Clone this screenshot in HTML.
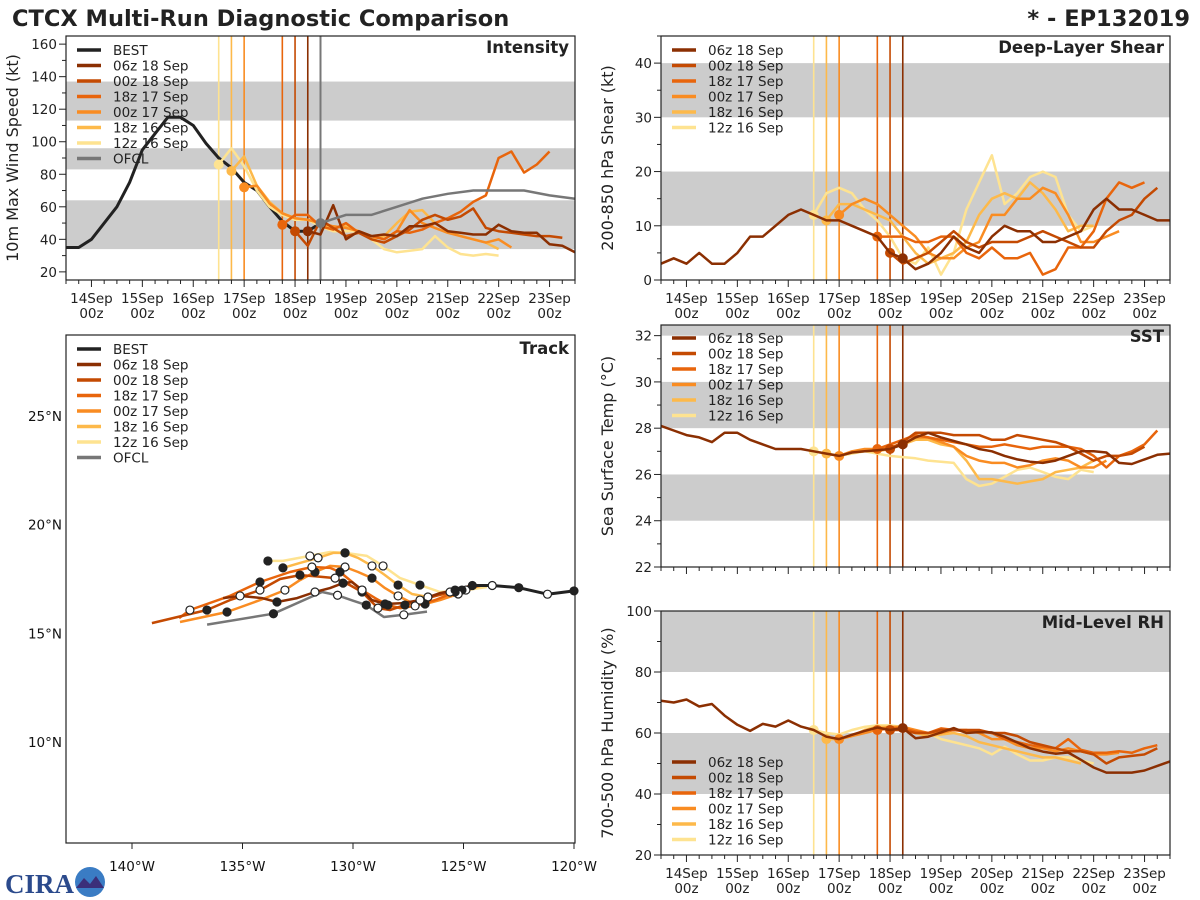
<!DOCTYPE html>
<html><head><meta charset="utf-8"><title>CTCX Multi-Run Diagnostic Comparison</title>
<style>
html,body{margin:0;padding:0;background:#fff;}
svg{display:block;font-family:"DejaVu Sans","Liberation Sans",sans-serif;}
</style></head>
<body>
<svg id="fig" xmlns="http://www.w3.org/2000/svg" width="1200" height="900" viewBox="0 0 1200 900">
<text x="12" y="26" font-size="22.5" font-weight="bold" fill="#222">CTCX Multi-Run Diagnostic Comparison</text>
<text x="1190" y="26" font-size="22.5" font-weight="bold" fill="#222" text-anchor="end">* - EP132019</text>
<g>
<text x="5" y="893" font-size="27" font-weight="bold" fill="#2b4a8c" font-family="Liberation Serif, serif">CIRA</text>
<circle cx="90" cy="882" r="15" fill="#3a7cc4"/>
<path d="M76 888 L84 878 L90 884 L96 876 L104 888 Z" fill="#3b2f7a"/>
</g>
</svg>
<script>
// ---------------- DATA ----------------
const runNames = ["06z 18 Sep","00z 18 Sep","18z 17 Sep","00z 17 Sep","18z 16 Sep","12z 16 Sep"];
const runInit = [4.25, 4.0, 3.75, 3.0, 2.75, 2.5]; // days after 14 Sep 00z
const dayLabels = ["14Sep","15Sep","16Sep","17Sep","18Sep","19Sep","20Sep","21Sep","22Sep","23Sep"];
// Intensity (kt)
const intBestStart = -0.5;
const intBest = [35,35,40,50,60,75,95,105,115,115,110,99,90,84,75,70,60,51,45,45,50];
const ofclTimes = [4.5,5.0,5.5,6.0,6.5,7.0,7.5,8.0,8.5,9.0,9.5];
const ofclVals = [50,55,55,60,65,68,70,70,70,67,65];
const int06z18 = [45,43,61,40,45,42,43,42,48,48,50,45,44,43,43,49,45,44,44,37,36,32];
const int00z18 = [45,36,52,47,42,44,40,38,42,46,52,55,52,54,59,47,45,44,43,42,42,41];
const int18z17 = [49,55,55,48,46,50,44,42,40,45,44,46,50,53,57,63,67,90,94,81,86,94];
const int00z17 = [72,73,62,56,53,52,50,48,47,45,42,40,45,58,50,47,44,42,40,38,40,35];
const int18z16 = [82,91,73,63,56,53,52,50,47,48,45,40,42,50,57,58,50,45,42,40,38,34];
const int12z16 = [86,96,85,70,60,55,52,52,48,45,45,45,40,34,32,33,34,42,35,31,30,31,30];
// Deep-layer shear (kt)
const shr06z18 = [3,4,3,5,3,3,5,8,8,10,12,13,12,11,11,10,9,8,5,4,2,3,5,8,6,5,8,10,9,9,7,7,8,9,13,15,13,13,12,11,11];
const shr06z18Start = -0.5;
const shr00z18 = [5,3,4,5,7,9,7,6,7,7,7,8,9,8,7,6,6,9,11,12,15,17];
const shr18z17 = [8,8,8,7,7,8,8,5,4,6,4,4,5,1,2,6,6,9,15,18,17,18];
const shr00z17 = [12,14,15,14,12,10,8,5,4,4,6,7,12,12,15,15,17,16,12,7,7,8,9];
const shr18z16 = [11,14,14,13,12,11,8,5,3,4,5,7,12,15,16,15,18,16,13,9,10,10];
const shr12z16 = [12,16,17,16,13,11,8,4,3,6,1,5,13,18,23,14,16,19,20,19,12,9,10];
// SST (C)
const sst06z18 = [28.1,27.9,27.7,27.6,27.4,27.8,27.8,27.5,27.3,27.1,27.1,27.1,27.0,26.9,26.8,26.95,27.0,27.05,27.1,27.3,27.6,27.8,27.6,27.45,27.3,27.1,27.0,26.8,26.65,26.55,26.5,26.6,26.8,27.0,27.0,26.95,26.5,26.45,26.65,26.85,26.9];
const sst06z18Start = -0.5;
const sst00z18 = [27.1,27.4,27.8,27.8,27.8,27.7,27.7,27.7,27.5,27.5,27.7,27.6,27.5,27.4,27.2,26.9,26.6,26.8,26.8,26.9,27.2];
const sst18z17 = [27.1,27.3,27.5,27.7,27.6,27.5,27.4,27.3,27.2,27.2,27.3,27.2,27.1,27.2,27.2,27.2,27.1,26.8,26.3,26.8,27.0,27.3,27.9];
const sst00z17 = [26.8,27.0,27.1,27.1,27.2,27.3,27.6,27.6,27.4,27.2,26.8,26.6,26.5,26.5,26.3,26.4,26.6,26.7,26.6,26.3,26.3,26.6];
const sst18z16 = [26.9,26.8,26.95,27.0,27.0,27.1,27.3,27.5,27.5,27.3,27.2,26.6,25.8,25.8,25.7,25.6,25.7,25.8,26.1,26.2,26.3,26.6];
const sst12z16 = [27.0,26.9,26.8,26.9,27.0,26.9,26.8,26.75,26.7,26.6,26.55,26.5,25.8,25.5,25.6,25.9,26.2,26.3,26.1,25.9,25.8,26.2,26.1];
// Mid-level RH (%)
const rh06z18 = [70.6,70,71,68.7,69.5,65.7,62.7,60.7,63,62.1,64.1,62.1,61,58.8,58,59.4,60.7,61.8,61,61.6,58.3,58.8,60.2,61.6,60,60.3,60.2,58.8,56.9,55,53.9,53.2,53.6,51.2,48.7,47,47,47,47.7,49.2,50.7];
const rh06z18Start = -0.5;
const rh00z18 = [61,61,60,60,61,61,61,61,60,60,59,57,56,55,54,54,53,50,52,52.5,53,55];
const rh18z17 = [61,61.5,61.5,60.5,60,61.5,61,60.5,60.5,60,58,57,56,55.5,55,58,54.5,53.5,53.5,54,53.5,55,56];
const rh00z17 = [58,59,60,61,62,62,61,60,60,61,61,60,58,58,56,55,55,54,55,54,53,53,53.5];
const rh18z16 = [58,58,59,61,62,62,61,60,59,59.5,60,59,57,56,55,54,53,52,52,51,50];
const rh12z16 = [61,60,59.5,61,62,62.5,62.5,62,60.5,60,58,57,56,55,53,55.5,53,51,51,52,52,51,50];
// Track (deg W, deg N)
const bestLon = [120.0,121.2,122.5,123.7,124.6];
const bestLat = [16.95,16.8,17.1,17.2,17.2];
const ofclLon = [126.65,127.7,128.6,129.4,130.0,130.7,131.4,133.6,136.6];
const ofclLat = [16.0,15.85,15.75,16.3,16.5,16.75,16.9,15.9,15.4];
const trk06z18Lon = [124.57,125.38,126.06,126.97,127.74,128.55,129.14,129.59,130.05,130.45,131.04,131.72,132.53,133.44,134.12,135.11,135.88];
const trk06z18Lat = [17.22,16.99,16.85,16.53,16.39,16.35,16.53,16.99,17.36,17.31,17.08,16.90,16.62,16.44,16.62,16.72,16.62];
const trk00z18Lon = [124.57,125.61,126.61,127.65,128.33,128.87,129.23,129.59,130.14,130.81,131.72,132.40,133.30,134.21,135.57,136.61,139.10];
const trk00z18Lat = [17.22,16.90,16.62,16.30,16.07,16.16,16.53,16.90,17.22,17.54,17.63,17.68,17.50,16.99,16.53,16.07,15.47];
const trk18z17Lon = [124.48,125.38,126.29,127.19,127.87,128.42,129.00,129.59,130.14,130.59,131.04,131.86,132.85,134.21,135.57,137.38,137.87];
const trk18z17Lat = [17.22,16.90,16.53,16.26,16.16,16.30,16.62,16.99,17.45,17.82,18.01,18.05,17.82,17.36,16.72,16.07,15.70];
const trk00z17Lon = [124.34,125.24,126.06,126.74,127.42,127.96,128.55,129.14,129.77,130.36,131.04,131.72,132.40,133.08,134.21,135.70,137.83];
const trk00z17Lat = [17.17,16.81,16.53,16.35,16.44,16.72,17.08,17.54,17.82,18.05,18.10,17.82,17.45,16.99,16.53,15.98,15.52];
const trk18z16Lon = [124.25,125.07,125.84,126.61,127.33,127.96,128.55,129.14,129.77,130.36,130.90,131.58,132.40,133.17];
const trk18z16Lat = [17.17,16.99,16.81,16.67,16.81,17.22,17.68,18.10,18.47,18.70,18.70,18.47,18.24,18.01];
const trk12z16Lon = [123.94,124.89,126.06,126.97,127.87,128.64,129.37,130.36,131.04,131.95,133.17,133.85];
const trk12z16Lat = [17.13,16.99,16.90,17.22,17.54,18.10,18.56,18.70,18.74,18.56,18.33,18.33];
const lonTicks = [140,135,130,125,120];
const latTicks = [25,20,15,10];

// ---------------- STYLE ----------------
const runColors = ["#8b2f02","#c44a02","#e8650c","#f98c22","#fdb94a","#fee391"];
const runKeys = ["06z18","00z18","18z17","00z17","18z16","12z16"];
const NS = "http://www.w3.org/2000/svg";
const svg = document.getElementById("fig");
function mk(tag, attrs, parent){ const e=document.createElementNS(NS,tag); for(const k in attrs) e.setAttribute(k,attrs[k]); (parent||svg).appendChild(e); return e; }

function timePanel(name, box, ymin, ymax){
  const g = mk("g",{});
  
  
  const P = {g, box, ymin, ymax,
    x: t => box.x0 + (t+0.5)/10*(box.x1-box.x0),
    y: v => box.y1 - (v-ymin)/(ymax-ymin)*(box.y1-box.y0)};
  const bg = mk("rect",{x:box.x0,y:box.y0,width:box.x1-box.x0,height:box.y1-box.y0,fill:"#fff"},g);
  
  
  return P;
}
function bands(P, list, name){
  list.forEach((b,i)=>{
    const lo=Math.max(b[0],P.ymin), hi=Math.min(b[1],P.ymax);
    const r = mk("rect",{x:P.box.x0,y:P.y(hi),width:P.box.x1-P.box.x0,height:P.y(lo)-P.y(hi),fill:"#cccccc"},P.g);
    
    
  });
}
function vlines(P, name, withOfcl){
  runInit.forEach((t,i)=>{
    const l = mk("line",{x1:P.x(t),x2:P.x(t),y1:P.box.y0,y2:P.box.y1,stroke:runColors[i],"stroke-width":1.6},P.g);
    
    
  });
  if(withOfcl){
    const l = mk("line",{x1:P.x(4.5),x2:P.x(4.5),y1:P.box.y0,y2:P.box.y1,stroke:"#777","stroke-width":2},P.g);
    
    
  }
}
function series(P, start, vals, color, w, name, dot){
  const pts = vals.map((v,i)=>P.x(start+i*0.25).toFixed(1)+","+P.y(v).toFixed(1)).join(" ");
  const pl = mk("polyline",{points:pts,fill:"none",stroke:color,"stroke-width":w,"stroke-linejoin":"round"},P.g);
  
  
  if(dot){
    const c = mk("circle",{cx:P.x(start),cy:P.y(vals[0]),r:5,fill:color},P.g);
    
    
  }
}
function axes(P, name, yticks, ylabel, title, showX){
  const b=P.box, g=P.g;
  for(let t=-0.5;t<=9.5001;t+=0.25){
    const major = Math.abs(t-Math.round(t))<1e-6;
    const tk = mk("line",{x1:P.x(t),x2:P.x(t),y1:b.y1,y2:b.y1+(major?7:4),stroke:"#222","stroke-width":1},g);
    
    
  }
  if(showX){
    dayLabels.forEach((d,i)=>{
      const tx = mk("text",{x:P.x(i),y:b.y1+23,"font-size":13.5,"text-anchor":"middle",fill:"#222"},g);
      tx.textContent = d;
      
      
      const tz = mk("text",{x:P.x(i),y:b.y1+38,"font-size":13.5,"text-anchor":"middle",fill:"#222"},g);
      tz.textContent = "00z";
      
      
    });
  }
  const step = yticks[1]-yticks[0];
  for(let v=yticks[0]-step; v<=P.ymax+1e-6; v+=step/2){
    if(v<P.ymin-1e-6) continue;
    const major = yticks.some(t=>Math.abs(t-v)<1e-6);
    const tk = mk("line",{x1:b.x0-(major?7:4),x2:b.x0,y1:P.y(v),y2:P.y(v),stroke:"#222","stroke-width":1},g);
    
    
  }
  yticks.forEach(v=>{
    const tx = mk("text",{x:b.x0-9,y:P.y(v)+5,"font-size":13.5,"text-anchor":"end",fill:"#222"},g);
    tx.textContent = v;
    
    
  });
  const cy=(b.y0+b.y1)/2, cx=b.x0-48;
  const yl = mk("text",{x:cx,y:cy,"font-size":16,"text-anchor":"middle",fill:"#222",transform:`rotate(-90 ${cx} ${cy})`},g);
  yl.textContent = ylabel;
  
  
  const tt = mk("text",{x:b.x1-6,y:b.y0+17,"font-size":16.5,"font-weight":"bold","text-anchor":"end",fill:"#222"},g);
  tt.textContent = title;
  
  
  const fr = mk("rect",{x:b.x0,y:b.y0,width:b.x1-b.x0,height:b.y1-b.y0,fill:"none",stroke:"#222","stroke-width":1.2},g);
  
  
}
function legend(g, x, y0, entries, name){
  entries.forEach((e,i)=>{
    const y = y0 + i*15.5;
    const l = mk("line",{x1:x,x2:x+24,y1:y,y2:y,stroke:e[1],"stroke-width":3.5},g);
    
    
    const t = mk("text",{x:x+36,y:y+5,"font-size":13.5,fill:"#222"},g);
    t.textContent = e[0];
    
    
  });
}
const runEntries = runNames.map((n,i)=>[n,runColors[i]]);

// ---------------- INTENSITY ----------------
const PI = timePanel("intensity",{x0:66,x1:575,y0:36,y1:280},15,165);
bands(PI,[[34,64],[83,96],[113,137]],"intensity");
vlines(PI,"intensity",true);
const intRuns = [int06z18,int00z18,int18z17,int00z17,int18z16,int12z16];
series(PI,intBestStart,intBest,"#222",3,"intensity-best-line",false);
for(let i=intRuns.length-1;i>=0;i--) series(PI,runInit[i],intRuns[i],runColors[i],2.5,"intensity-line-"+runKeys[i],true);
(function(){
  const pts = ofclTimes.map((t,i)=>PI.x(t).toFixed(1)+","+PI.y(ofclVals[i]).toFixed(1)).join(" ");
  const pl = mk("polyline",{points:pts,fill:"none",stroke:"#777","stroke-width":2.5},PI.g);
  
  
  const c = mk("circle",{cx:PI.x(ofclTimes[0]),cy:PI.y(ofclVals[0]),r:5,fill:"#777"},PI.g);
  
  
})();
legend(PI.g,77,50,[["BEST","#222"]].concat(runEntries,[["OFCL","#777"]]),"intensity");
axes(PI,"intensity",[20,40,60,80,100,120,140,160],"10m Max Wind Speed (kt)","Intensity",true);

// ---------------- SHEAR ----------------
const PS = timePanel("shear",{x0:661,x1:1170,y0:36,y1:280},0,45);
bands(PS,[[10,20],[30,40]],"shear");
vlines(PS,"shear",false);
const shrRuns = [shr06z18,shr00z18,shr18z17,shr00z17,shr18z16,shr12z16];
for(let i=shrRuns.length-1;i>=1;i--) series(PS,runInit[i],shrRuns[i],runColors[i],2.5,"shear-line-"+runKeys[i],true);
series(PS,shr06z18Start,shr06z18,runColors[0],2.5,"shear-line-06z18",false);
(function(){ const c=mk("circle",{cx:PS.x(runInit[0]),cy:PS.y(shr06z18[Math.round((runInit[0]-shr06z18Start)/0.25)]),r:5,fill:runColors[0]},PS.g);

 })();
legend(PS.g,672,50,runEntries,"shear");
axes(PS,"shear",[0,10,20,30,40],"200-850 hPa Shear (kt)","Deep-Layer Shear",true);

// ---------------- SST ----------------
const PT = timePanel("sst",{x0:661,x1:1170,y0:325,y1:567},22,32.46);
bands(PT,[[24,26],[28,30],[32,34]],"sst");
vlines(PT,"sst",false);
const sstRuns = [sst06z18,sst00z18,sst18z17,sst00z17,sst18z16,sst12z16];
for(let i=sstRuns.length-1;i>=1;i--) series(PT,runInit[i],sstRuns[i],runColors[i],2.5,"sst-line-"+runKeys[i],true);
series(PT,sst06z18Start,sst06z18,runColors[0],2.5,"sst-line-06z18",false);
(function(){ const c=mk("circle",{cx:PT.x(runInit[0]),cy:PT.y(sst06z18[Math.round((runInit[0]-sst06z18Start)/0.25)]),r:5,fill:runColors[0]},PT.g);

 })();
legend(PT.g,672,338,runEntries,"sst");
axes(PT,"sst",[22,24,26,28,30,32],"Sea Surface Temp (°C)","SST",false);

// ---------------- RH ----------------
const PR = timePanel("rh",{x0:661,x1:1170,y0:611,y1:855},20,100);
bands(PR,[[40,60],[80,100]],"rh");
vlines(PR,"rh",false);
const rhRuns = [rh06z18,rh00z18,rh18z17,rh00z17,rh18z16,rh12z16];
for(let i=rhRuns.length-1;i>=1;i--) series(PR,runInit[i],rhRuns[i],runColors[i],2.5,"rh-line-"+runKeys[i],true);
series(PR,rh06z18Start,rh06z18,runColors[0],2.5,"rh-line-06z18",false);
(function(){ const c=mk("circle",{cx:PR.x(runInit[0]),cy:PR.y(rh06z18[Math.round((runInit[0]-rh06z18Start)/0.25)]),r:5,fill:runColors[0]},PR.g);

 })();
legend(PR.g,672,762,runEntries,"rh");
axes(PR,"rh",[20,40,60,80,100],"700-500 hPa Humidity (%)","Mid-Level RH",true);

// ---------------- TRACK ----------------
(function(){
  const box={x0:66,x1:575,y0:335,y1:843};
  const g = mk("g",{});
  
  
  const lonX = lon => 132 + (140-lon)*22.1;
  const latY = lat => 416 + (25-lat)*21.73;
  const bg = mk("rect",{x:box.x0,y:box.y0,width:box.x1-box.x0,height:box.y1-box.y0,fill:"#fff"},g);
  
  
  function path(lons,lats,color,w,name){
    const pts = lons.map((l,i)=>lonX(l).toFixed(1)+","+latY(lats[i]).toFixed(1)).join(" ");
    const pl = mk("polyline",{points:pts,fill:"none",stroke:color,"stroke-width":w,"stroke-linejoin":"round"},g);
    
    
  }
  function marks(lons,lats,name,startFilled){
    for(let i=1;i<lons.length;i+=2){
      const filled = ((i-1)/2)%2===0 ? startFilled : !startFilled;
      const c = mk("circle",{cx:lonX(lons[i]),cy:latY(lats[i]),r:4,fill:filled?"#222":"#fff",stroke:"#222","stroke-width":1.2},g);
      
      
    }
  }
  const trks = [[trk06z18Lon,trk06z18Lat],[trk00z18Lon,trk00z18Lat],[trk18z17Lon,trk18z17Lat],[trk00z17Lon,trk00z17Lat],[trk18z16Lon,trk18z16Lat],[trk12z16Lon,trk12z16Lat]];
  path(ofclLon,ofclLat,"#777",2.5,"track-ofcl-line");
  for(let i=trks.length-1;i>=0;i--) path(trks[i][0],trks[i][1],runColors[i],2.5,"track-line-"+runKeys[i]);
  path(bestLon,bestLat,"#222",3,"track-best-line");
  marks(ofclLon,ofclLat,"track-ofcl-marker",false);
  for(let i=trks.length-1;i>=0;i--) marks(trks[i][0],trks[i][1],"track-marker-"+runKeys[i],i%2===0);
  bestLon.forEach((l,i)=>{
    const c = mk("circle",{cx:lonX(l),cy:latY(bestLat[i]),r:4,fill:i%2===0?"#222":"#fff",stroke:"#222","stroke-width":1.2},g);
    
    
  });
  lonTicks.forEach(l=>{
    const tk = mk("line",{x1:lonX(l),x2:lonX(l),y1:box.y1,y2:box.y1+6,stroke:"#222"},g);
    
    
    const t = mk("text",{x:lonX(l),y:871,"font-size":13.5,"text-anchor":"middle",fill:"#111"},g);
    t.textContent = l+"°W";
    
    
  });
  latTicks.forEach(l=>{
    const t = mk("text",{x:62,y:latY(l)+5,"font-size":13.5,"text-anchor":"end",fill:"#111"},g);
    t.textContent = l+"°N";
    
    
  });
  legend(g,77,349,[["BEST","#222"]].concat(runEntries,[["OFCL","#777"]]),"track");
  const tt = mk("text",{x:box.x1-6,y:box.y0+19,"font-size":16.5,"font-weight":"bold","text-anchor":"end",fill:"#222"},g);
  tt.textContent = "Track";
  
  
  const fr = mk("rect",{x:box.x0,y:box.y0,width:box.x1-box.x0,height:box.y1-box.y0,fill:"none",stroke:"#222","stroke-width":1.2},g);
  
  
})();
</script>
</body></html>
